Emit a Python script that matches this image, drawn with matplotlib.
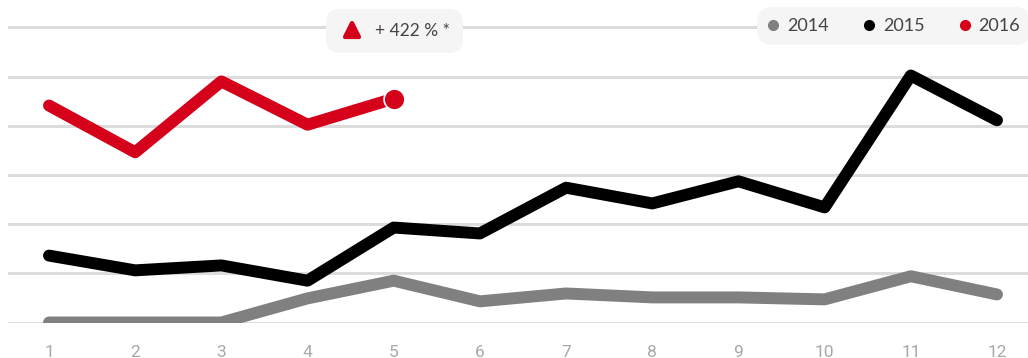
import matplotlib
matplotlib.use("Agg")
import matplotlib.pyplot as plt
from matplotlib.lines import Line2D
from matplotlib.markers import MarkerStyle
from matplotlib.patches import FancyBboxPatch
from matplotlib.transforms import IdentityTransform

months = list(range(1, 13))
y2014 = [0.0, 0.0, 0.0, 0.49, 0.85, 0.43, 0.59, 0.51, 0.51, 0.47, 0.94, 0.57]
y2015 = [1.36, 1.06, 1.16, 0.85, 1.93, 1.81, 2.74, 2.42, 2.87, 2.34, 5.02, 4.11]
y2016 = [4.41, 3.46, 4.90, 4.02, 4.55]
series_names = ["2014", "2015", "2016"]
series_colors = ["#808080", "#000000", "#d50019"]
change_label = "+ 422 % *"

W, H = 1028, 358
fig = plt.figure(figsize=(W / 100, H / 100), dpi=100)
ax = fig.add_axes([8 / W, (H - 322.5) / H, 1020 / W, 322.5 / H])

ax.plot(months, y2014, color=series_colors[0], lw=8.6, solid_capstyle="round",
        solid_joinstyle="round", zorder=3)
ax.plot(months, y2015, color=series_colors[1], lw=8.6, solid_capstyle="round",
        solid_joinstyle="round", zorder=4)
ax.plot(months[:len(y2016)], y2016, color=series_colors[2], lw=8.6,
        solid_capstyle="round", solid_joinstyle="round", zorder=5)
ax.plot(months[len(y2016) - 1], y2016[-1], "o", color=series_colors[2], ms=15,
        mec="white", mew=1.2, zorder=6)

ax.set_xlim(1 - 41 / 86.18, 12 + 31 / 86.18)
ax.set_ylim(0, 322.5 / 49.2)
ax.set_yticks(range(0, 7))
ax.set_yticklabels([])
ax.set_xticks(months)
ax.set_xticklabels([str(m) for m in months])
ax.tick_params(axis="x", length=0, pad=21.5, labelsize=12.5, labelcolor="#a8a8a8")
ax.tick_params(axis="y", length=0)
for lab in ax.get_xticklabels():
    lab.set_family(["Roboto", "DejaVu Sans"])
    lab.set_va("center")
ax.grid(axis="y", color="#dcdcdc", lw=2.2, zorder=1)
ax.set_axisbelow(True)
for s in ax.spines.values():
    s.set_visible(False)

# change badge
badge = FancyBboxPatch((326, H - 53), 137, 44, boxstyle="round,pad=0,rounding_size=14",
                       transform=IdentityTransform(), fc="#f5f5f5", ec="none", zorder=10)
fig.patches.append(badge)
tri = MarkerStyle("^", joinstyle="round")
fig.add_artist(Line2D([352 / W], [1 - 29.5 / H], marker=tri, ms=10.5, color=series_colors[2],
                      mec=series_colors[2], mew=3, linestyle="none", zorder=11))
fig.text(375 / W, 1 - 31 / H, change_label, fontsize=12.5, color="#444444",
         family="Lato", va="center", ha="left", zorder=12)

# legend
handles = [Line2D([], [], marker="o", ls="none", color=c, ms=7) for c in series_colors]
leg = fig.legend(handles, series_names, loc="center right",
                 bbox_to_anchor=(1040 / W, 1 - 26 / H),
                 ncol=3, frameon=True, fancybox=True, handlelength=0.6,
                 handletextpad=0.45, columnspacing=1.95, borderpad=0.6,
                 prop={"family": "Lato", "size": 13})
leg.get_frame().set_facecolor("#f5f5f5")
leg.get_frame().set_edgecolor("none")
leg.get_frame().set_alpha(1)
leg.get_frame().set_boxstyle("round,pad=0,rounding_size=0.9")
for t in leg.get_texts():
    t.set_color("#444444")

fig.savefig("out.png", dpi=100)
